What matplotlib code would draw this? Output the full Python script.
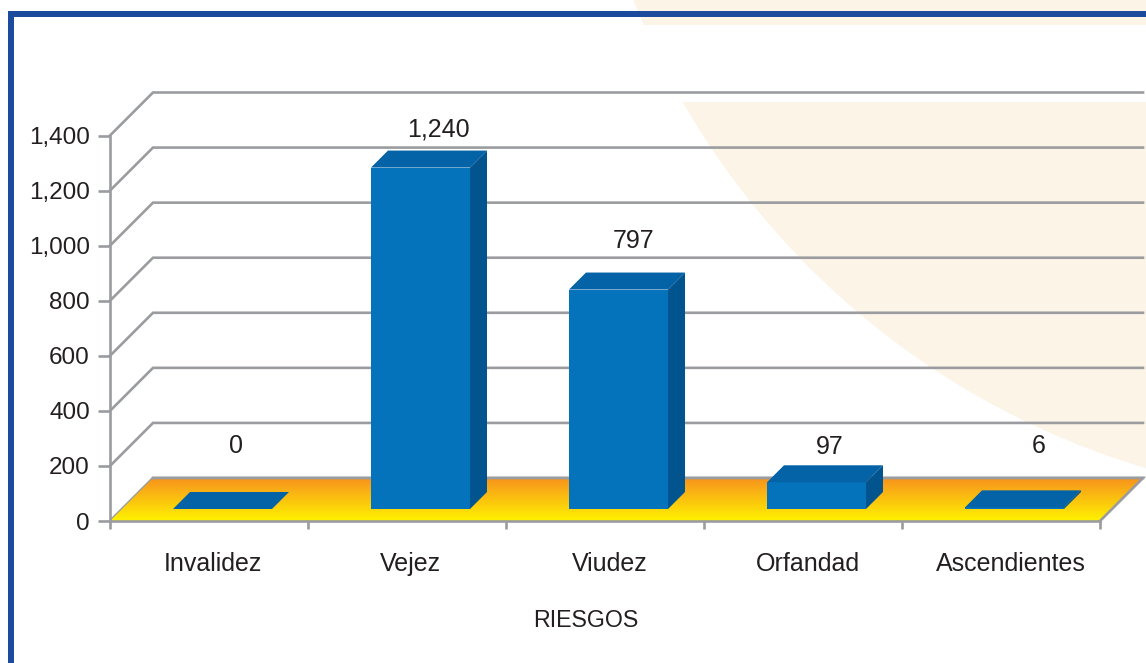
import matplotlib
matplotlib.use('Agg')
import matplotlib.pyplot as plt
import numpy as np
from matplotlib.colors import LinearSegmentedColormap
from matplotlib.patches import Circle, Polygon, Rectangle

plt.rcParams['font.family'] = ['Liberation Sans', 'DejaVu Sans']

# Data
riesgos = ['Invalidez', 'Vejez', 'Viudez', 'Orfandad', 'Ascendientes']
valores = [0, 1240, 797, 97, 6]
etiquetas = ['0', '1,240', '797', '97', '6']
yticks = [0, 200, 400, 600, 800, 1000, 1200, 1400]
ylabels = ['0', '200', '400', '600', '800', '1,000', '1,200', '1,400']

# Layout, in pixels of the 1146x663 picture
W, H = 1146, 663
left, right, top, bottom = 110, 1100, 135.5, 521
floor_dx, floor_dy = 43, 43
bar_shift = 13.5
bar_shift_y = 12
bar_depth = 17
bar_w = 99
label_shift = [4, 3, 5, 5, 10]
# data label offset from the bar front centre and top, px
value_dx = [14, 18, 15, 13, 24]
value_dy = [63, 38, 49, 35, 61]

GRAY = '#9b9c9f'
INK = '#231f20'
FRONT = '#0572bc'
TOP = '#0462a6'
SIDE = '#02548f'
CREAM = '#fdf4e8'
BLUE = '#1c4a9c'

fig = plt.figure(figsize=(W / 100, H / 100), dpi=100, facecolor='white')

# Background and frame, in pixel coordinates
bg = fig.add_axes([0, 0, 1, 1])
bg.set_xlim(0, W)
bg.set_ylim(H, 0)
bg.axis('off')
bg.add_patch(Circle((1372, -294), 795, color=CREAM, lw=0))
bg.add_patch(Rectangle((0, 25), W, 77, color='white', lw=0))
bg.add_patch(Rectangle((8, 11), W, 5.5, color=BLUE, lw=0))
bg.add_patch(Rectangle((8, 11), 5.5, H, color=BLUE, lw=0))

# Main axes: x in categories, y in values
ax = fig.add_axes([left / W, 1 - bottom / H, (right - left) / W, (bottom - top) / H])
ax.patch.set_visible(False)
ux = len(riesgos) / (right - left)
uy = yticks[-1] / (bottom - top)

# Walls: grid lines go back in depth, then run right
for v in yticks:
    ax.plot([0, floor_dx * ux, len(riesgos) + floor_dx * ux],
            [v, v + floor_dy * uy, v + floor_dy * uy],
            color=GRAY, lw=1.9, clip_on=False, zorder=1, solid_joinstyle='miter')

# Floor with gradient
floor_pts = [(0, 0), (floor_dx * ux, floor_dy * uy),
             (len(riesgos) + floor_dx * ux, floor_dy * uy), (len(riesgos), 0)]
floor = Polygon(floor_pts, closed=True, fc='none', ec='none', transform=ax.transData)
ax.add_patch(floor)
cmap = LinearSegmentedColormap.from_list('piso', ['#f7941d', '#fff200'])
im = ax.imshow(np.linspace(0, 1, 64).reshape(-1, 1), cmap=cmap, aspect='auto',
               extent=[0, len(riesgos) + floor_dx * ux, 0, floor_dy * uy],
               origin='upper', zorder=2)
im.set_clip_box(fig.bbox)
im.set_clip_path(floor)
ax.plot([floor_pts[1][0], floor_pts[2][0], floor_pts[3][0]],
        [floor_pts[1][1], floor_pts[2][1], floor_pts[3][1]],
        color=GRAY, lw=1.9, clip_on=False, zorder=3, solid_joinstyle='miter')

# Bars
centros = np.arange(len(riesgos)) + 0.5 + bar_shift * ux
base = bar_shift_y * uy
ax.bar(centros, valores, width=bar_w * ux, bottom=base, color=FRONT, zorder=4, clip_on=False)
for c, v in zip(centros, valores):
    x0, x1 = c - bar_w * ux / 2, c + bar_w * ux / 2
    y1 = base + v
    ddx, ddy = bar_depth * ux, bar_depth * uy
    ax.add_patch(Polygon([(x0, y1), (x0 + ddx, y1 + ddy), (x1 + ddx, y1 + ddy), (x1, y1)],
                         fc=TOP, ec='none', zorder=5, clip_on=False))
    ax.add_patch(Polygon([(x1, base), (x1 + ddx, base + ddy), (x1 + ddx, y1 + ddy), (x1, y1)],
                         fc=SIDE, ec='none', zorder=5, clip_on=False))

# Value labels
for c, v, txt, dx, dy in zip(centros, valores, etiquetas, value_dx, value_dy):
    ax.annotate(txt, (c, base + v), xytext=(dx * 0.72, dy * 0.72), textcoords='offset points',
                ha='center', va='center', fontsize=18, color=INK, zorder=6,
                annotation_clip=False)

# Axes
ax.set_xlim(0, len(riesgos))
ax.set_ylim(0, yticks[-1])
for s in ['top', 'right']:
    ax.spines[s].set_visible(False)
for s in ['left', 'bottom']:
    ax.spines[s].set_color(GRAY)
    ax.spines[s].set_linewidth(1.9)
    ax.spines[s].set_zorder(7)
ax.set_yticks(yticks, ylabels)
ax.tick_params(axis='y', length=8.5, width=1.9, color=GRAY, labelsize=17.5, labelcolor=INK, pad=6)
ax.set_xticks(np.arange(len(riesgos) + 1), [''] * (len(riesgos) + 1))
ax.tick_params(axis='x', which='major', length=6, width=1.9, color=GRAY)
ax.set_xticks(np.arange(len(riesgos)) + 0.5 + np.array(label_shift) * ux, riesgos, minor=True)
ax.tick_params(axis='x', which='minor', length=0, labelsize=18, labelcolor=INK, pad=22)
ax.set_xlabel('RIESGOS', fontsize=16.7, color=INK, labelpad=24, x=(586 - left) / (right - left))

fig.savefig('out.png', dpi=100)
